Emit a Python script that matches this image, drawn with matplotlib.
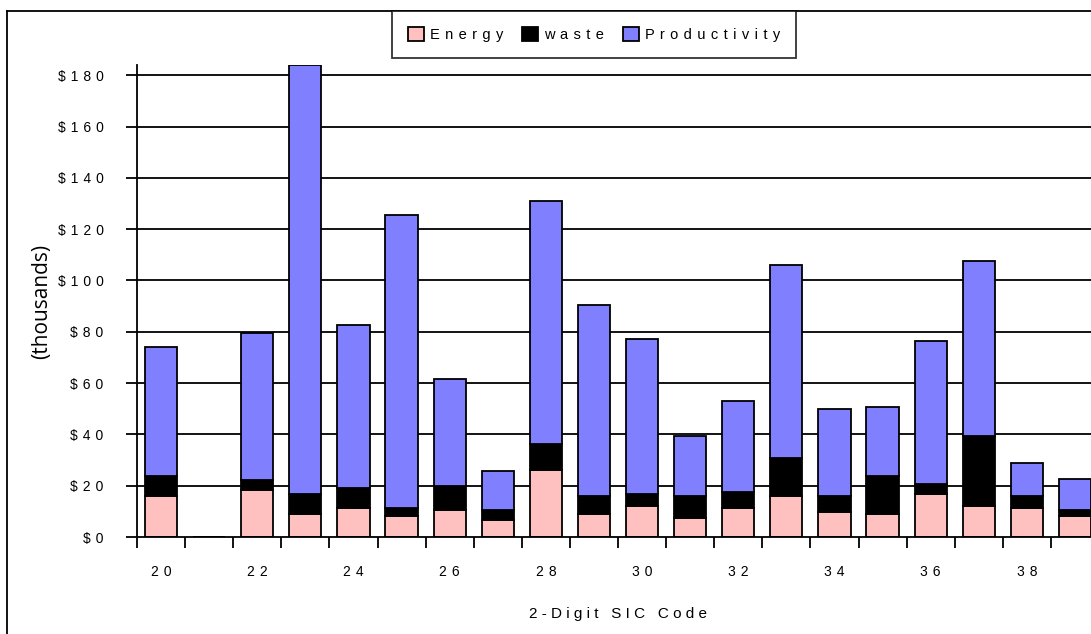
import numpy as np
import matplotlib
matplotlib.use("Agg")
import matplotlib.pyplot as plt
from matplotlib.lines import Line2D

plt.rcParams['font.family'] = ['Liberation Sans', 'DejaVu Sans']

# data (thousands of dollars)
codes = list(range(20, 40))
energy = [16.1, 0, 18.3, 9.0, 11.3, 8.3, 10.4, 6.5, 26.0, 9.0,
          12.1, 7.3, 11.3, 16.0, 9.7, 9.0, 16.8, 12.1, 11.3, 8.2]
waste = [7.6, 0, 3.9, 7.8, 7.8, 2.9, 9.4, 3.9, 10.1, 7.0,
         4.7, 8.7, 6.2, 14.8, 6.3, 14.8, 3.9, 27.3, 4.7, 2.3]
productivity = [50.5, 0, 57.3, 167.2, 63.5, 114.5, 41.7, 15.4, 94.9, 74.5,
                60.4, 23.5, 35.4, 75.2, 33.8, 26.9, 55.7, 68.2, 13.0, 12.1]
yticks = list(range(0, 181, 20))
series_names = ['Energy', 'waste', 'Productivity']
colors = ['#FFC0C0', '#000000', '#8080FF']


def spaced(s, gap=' '):
    # wide letter spacing like the original
    return gap.join(s)


W, H = 1091, 634
fig = plt.figure(figsize=(W / 100, H / 100), dpi=100)
ax = fig.add_axes([137 / W, 97 / H, (1099 - 137) / W, 472 / H])

x = np.arange(len(codes))
e = np.array(energy)
w = np.array(waste)
p = np.array(productivity)
bw = 0.67
lw = 1.3
b1 = ax.bar(x, e, bw, color=colors[0], edgecolor='black', linewidth=lw, zorder=3)
b2 = ax.bar(x, w, bw, bottom=e, color=colors[1], edgecolor='black', linewidth=lw, zorder=3)
b3 = ax.bar(x, p, bw, bottom=e + w, color=colors[2], edgecolor='black', linewidth=lw, zorder=3)

ax.set_xlim(-0.5, len(codes) - 0.5)
ax.set_ylim(0, 184)

# gridlines
for v in yticks[1:]:
    ax.axhline(v, color='black', linewidth=lw, zorder=1)

ax.set_yticks(yticks)
ax.set_yticklabels([spaced('$%d' % v, ' \u200a') for v in yticks], fontsize=10)
ax.tick_params(axis='y', length=8, width=lw, pad=16, direction='out')

# ticks between categories, labels on every other category
ax.set_xticks(np.arange(-0.5, len(codes), 1.0))
ax.set_xticklabels([])
ax.set_xticks(x[::2], minor=True)
ax.set_xticklabels([spaced(str(c), ' \u200a') for c in codes[::2]], minor=True, fontsize=10)
ax.tick_params(axis='x', which='major', length=8, width=lw, direction='out')
ax.tick_params(axis='x', which='minor', length=0, pad=20)

ax.set_xlabel(spaced('2-Digit SIC Code'), fontsize=11, labelpad=20)
ax.set_ylabel('(thousands)', fontsize=15, family=['Open Sans', 'DejaVu Sans'], labelpad=4)

for s in ['top', 'right']:
    ax.spines[s].set_visible(False)
for s in ['left', 'bottom']:
    ax.spines[s].set_linewidth(lw)
    ax.spines[s].set_zorder(4)

# chart border
fig.add_artist(Line2D([7 / W, 1.0], [1 - 11 / H, 1 - 11 / H], transform=fig.transFigure,
                      color='black', linewidth=lw))
fig.add_artist(Line2D([7 / W, 7 / W], [0, 1 - 11 / H], transform=fig.transFigure,
                      color='black', linewidth=lw))

leg = fig.legend([b1, b2, b3], [spaced(n, ' \u200a') for n in series_names], ncol=3,
                 loc='upper center', bbox_to_anchor=(594 / W, 1 - 11 / H),
                 borderaxespad=0, fontsize=10.5, frameon=True, fancybox=False,
                 edgecolor='black', handlelength=1.1, handleheight=1.1,
                 handletextpad=0.4, columnspacing=1.3, borderpad=1.1)
leg.get_frame().set_linewidth(lw)

fig.savefig('out.png', dpi=100)
